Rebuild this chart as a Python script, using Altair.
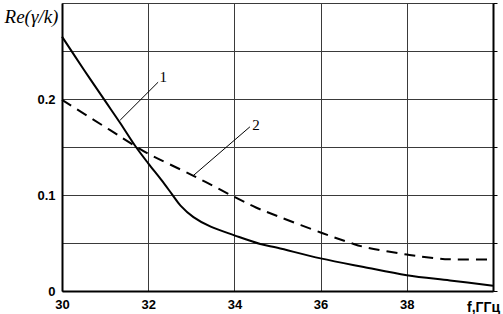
import altair as alt
import pandas as pd

# Curve 1 (solid)
f1 = [30, 30.5, 31, 31.35, 31.7, 32, 32.3, 32.55, 32.75, 33.05, 33.45, 34, 34.6, 35, 36, 37, 38, 39, 40]
y1 = [0.265, 0.231, 0.198, 0.175, 0.151, 0.133, 0.116, 0.101, 0.089, 0.077, 0.067, 0.058, 0.049, 0.045, 0.034, 0.025, 0.0165, 0.011, 0.0055]
# Curve 2 (dashed)
f2 = [30, 31.1, 31.7, 32, 33.05, 34, 34.5, 35, 36, 36.7, 37, 38, 38.7, 39, 40]
y2 = [0.199, 0.168, 0.151, 0.143, 0.120, 0.098, 0.087, 0.078, 0.061, 0.050, 0.046, 0.038, 0.034, 0.033, 0.033]

# Leader lines and labels
lead_x = [31.35, 33.04]
lead_y = [0.178, 0.120]
lead_x2 = [32.23, 34.36]
lead_y2 = [0.2175, 0.171]
lab_text = ["1", "2"]
lab_x = [32.35, 34.5]
lab_y = [0.223, 0.173]

x_ticks = [30, 32, 34, 36, 38, 40]
y_ticks = [0, 0.05, 0.1, 0.15, 0.2, 0.25, 0.3]

d1 = pd.DataFrame({"f": f1, "v": y1})
d2 = pd.DataFrame({"f": f2, "v": y2})
dl = pd.DataFrame({"x": lead_x, "y": lead_y, "x2": lead_x2, "y2": lead_y2})
dt = pd.DataFrame({"x": lab_x, "y": lab_y, "t": lab_text})

xs = alt.Scale(domain=[30, 40], nice=False, zero=False)
ys = alt.Scale(domain=[0, 0.3], nice=False)

xaxis = alt.Axis(
    values=x_ticks,
    labelExpr="datum.value == 40 ? '' : datum.label",
    labelFont="Liberation Sans", labelFontWeight="bold", labelFontSize=13, labelColor="black",
    labelFlush=False, labelPadding=7,
    tickSize=0, domainColor="black", domainWidth=2,
    grid=True, gridColor="#3a3a3a", gridWidth=1,
    title="f,ГГц", titleFont="Liberation Sans", titleFontWeight="bold", titleFontSize=14,
    titleColor="black", titleAngle=0, titleX=421, titleY=20, titleAlign="center",
    titleBaseline="alphabetic",
)
yaxis = alt.Axis(
    values=y_ticks,
    labelExpr="datum.value == 0 ? '0' : (abs(datum.value - 0.1) < 1e-9 ? '0.1' : (abs(datum.value - 0.2) < 1e-9 ? '0.2' : ''))",
    labelFont="Liberation Sans", labelFontWeight="bold", labelFontSize=13, labelColor="black",
    labelFlush=False, labelPadding=7,
    tickSize=0, domainColor="black", domainWidth=2,
    grid=True, gridColor="#3a3a3a", gridWidth=1,
    title="Re(γ/k)", titleFont="Liberation Serif", titleFontStyle="italic", titleFontWeight="normal",
    titleFontSize=19, titleColor="black", titleAngle=0, titleX=-31, titleY=13,
    titleAlign="center", titleBaseline="middle",
)

line1 = alt.Chart(d1).mark_line(color="black", strokeWidth=2, interpolate="catmull-rom").encode(
    x=alt.X("f:Q", scale=xs, axis=xaxis),
    y=alt.Y("v:Q", scale=ys, axis=yaxis),
)
line2 = alt.Chart(d2).mark_line(color="black", strokeWidth=2, strokeDash=[11, 7], interpolate="catmull-rom").encode(
    x=alt.X("f:Q", scale=xs),
    y=alt.Y("v:Q", scale=ys, axis=None),
)
leads = alt.Chart(dl).mark_rule(color="black", strokeWidth=1).encode(
    x=alt.X("x:Q", scale=xs), y=alt.Y("y:Q", scale=ys, axis=None), x2="x2:Q", y2="y2:Q"
)
labels = alt.Chart(dt).mark_text(font="Liberation Serif", fontSize=15, color="black").encode(
    x=alt.X("x:Q", scale=xs), y=alt.Y("y:Q", scale=ys, axis=None), text="t:N"
)
right = alt.Chart(d1).mark_line(opacity=0).encode(
    x=alt.X("f:Q", scale=xs),
    y=alt.Y("v:Q", scale=ys, axis=alt.Axis(orient="right", values=y_ticks, labels=False, title=None,
                                           tickSize=4, tickColor="black", domainColor="black",
                                           domainWidth=2, grid=False)),
)

chart = alt.layer(line1, line2, leads, labels, right).resolve_axis(y="independent").properties(
    width=431, height=288,
    autosize=alt.AutoSizeParams(type="none"),
    padding={"left": 62, "top": 3, "right": 10, "bottom": 23},
).configure_view(stroke="black", strokeWidth=1.5).configure(background="white")

chart.save("out.html", embed_options={"renderer": "svg", "actions": False})
